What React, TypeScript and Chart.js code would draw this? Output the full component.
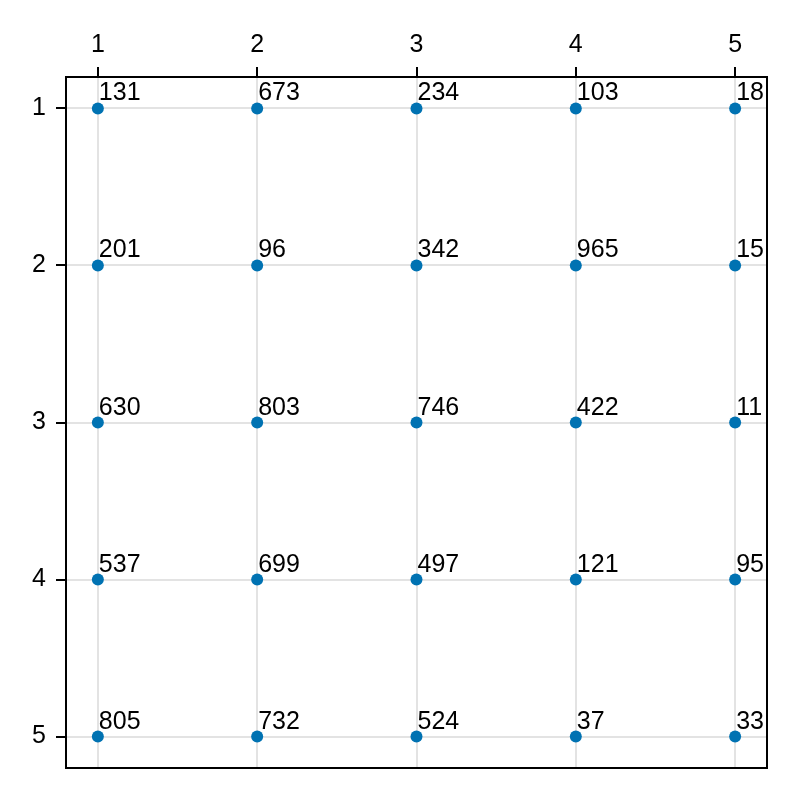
import React, { useEffect, useRef } from "react";
import { Chart, registerables } from "chart.js";

Chart.register(...registerables);

const xTicks = [1, 2, 3, 4, 5];
const yTicks = [1, 2, 3, 4, 5];
const row1 = ["131", "673", "234", "103", "18"];
const row2 = ["201", "96", "342", "965", "15"];
const row3 = ["630", "803", "746", "422", "11"];
const row4 = ["537", "699", "497", "121", "95"];
const row5 = ["805", "732", "524", "37", "33"];
const rows = [row1, row2, row3, row4, row5];

const FONT = "'Liberation Sans', Arial, sans-serif";

export default function App() {
  const ref = useRef<HTMLCanvasElement>(null);
  useEffect(() => {
    document.body.style.margin = "0";
    const pts: { x: number; y: number; label: string }[] = [];
    rows.forEach((r, i) =>
      r.forEach((lab, j) => pts.push({ x: xTicks[j], y: yTicks[i], label: lab }))
    );

    const labelPlugin = {
      id: "labels",
      afterDatasetsDraw(chart: any) {
        const { ctx, chartArea } = chart;
        const meta = chart.getDatasetMeta(0);
        ctx.save();
        ctx.beginPath();
        ctx.rect(chartArea.left, chartArea.top, chartArea.right - chartArea.left, chartArea.bottom - chartArea.top);
        ctx.clip();
        ctx.font = `25px ${FONT}`;
        ctx.fillStyle = "#000";
        ctx.textAlign = "left";
        ctx.textBaseline = "alphabetic";
        meta.data.forEach((el: any, i: number) => {
          ctx.fillText(pts[i].label, el.x + 1, el.y - 8);
        });
        ctx.restore();
        ctx.save();
        ctx.strokeStyle = "#000";
        ctx.lineWidth = 2;
        ctx.strokeRect(chartArea.left, chartArea.top, chartArea.right - chartArea.left, chartArea.bottom - chartArea.top);
        ctx.restore();
      },
    };

    const chart = new Chart(ref.current!, {
      type: "scatter",
      data: {
        datasets: [
          {
            data: pts.map((p) => ({ x: p.x, y: p.y })),
            backgroundColor: "#0072B2",
            borderWidth: 0,
            pointRadius: 6,
          },
        ],
      },
      options: {
        animation: false,
        responsive: false,
        layout: { padding: { right: 33, bottom: 32, top: 0, left: 0 } },
        plugins: { legend: { display: false }, tooltip: { enabled: false } },
        scales: {
          x: {
            type: "linear",
            position: "top",
            min: 0.8,
            max: 5.2,
            afterBuildTicks: (s: any) => {
              s.ticks = xTicks.map((v) => ({ value: v }));
            },
            afterFit: (s: any) => {
              s.height = 77;
            },
            grid: { color: "#e3e3e3", lineWidth: 2, tickColor: "#000", tickLength: 10, tickWidth: 2 },
            border: { display: false },
            ticks: { color: "#000", font: { family: FONT, size: 25 }, padding: 7, maxRotation: 0 },
          },
          y: {
            type: "linear",
            reverse: true,
            min: 0.8,
            max: 5.2,
            afterBuildTicks: (s: any) => {
              s.ticks = yTicks.map((v) => ({ value: v }));
            },
            afterFit: (s: any) => {
              s.width = 66;
            },
            grid: { color: "#e3e3e3", lineWidth: 2, tickColor: "#000", tickLength: 10, tickWidth: 2 },
            border: { display: false },
            ticks: { color: "#000", font: { family: FONT, size: 25 }, padding: 10 },
          },
        },
      },
      plugins: [labelPlugin],
    });
    return () => chart.destroy();
  }, []);
  return <canvas ref={ref} width={800} height={800} style={{ display: "block" }} />;
}
